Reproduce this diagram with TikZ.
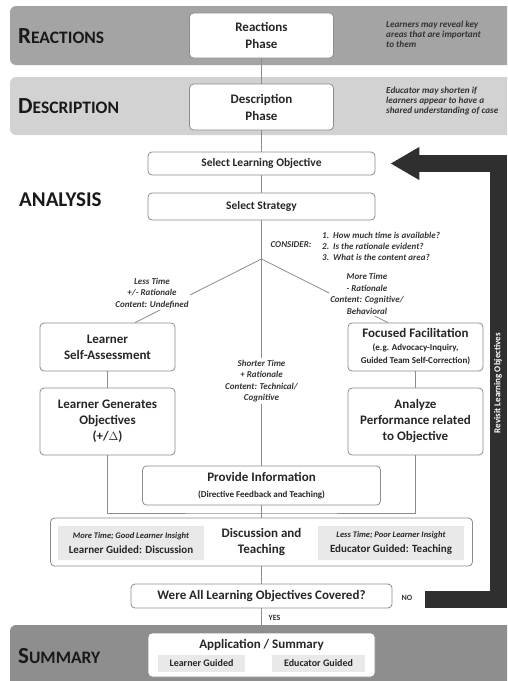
\documentclass[tikz,border=0pt]{standalone}
\usepackage{fontspec}
\setmainfont{Carlito}
\usetikzlibrary{positioning,calc,arrows.meta}

\definecolor{bandDark}{HTML}{A4A4A4}
\definecolor{bandLight}{HTML}{D2D2D2}
\definecolor{bandSum}{HTML}{8E8E8E}
\definecolor{lineGray}{HTML}{8C8C8C}
\definecolor{subGray}{HTML}{E9E9E9}
\definecolor{revisitGray}{HTML}{2F2F2F}

\tikzset{
  main/.style={rectangle, rounded corners=4pt, draw=lineGray, fill=white, line width=0.8pt, align=center, inner sep=0pt, text=black!85, font=\bfseries\fontsize{13}{16}\selectfont},
  sub/.style={rectangle, fill=subGray, align=center, inner sep=0pt, text=black!85},
  note/.style={align=left, anchor=west, inner sep=0pt, text=black!80, font=\bfseries\itshape\fontsize{9.2}{10}\selectfont},
  cond/.style={align=center, fill=white, inner sep=1.5pt, text=black!80, font=\bfseries\itshape\fontsize{9}{11.5}\selectfont},
  phase/.style={anchor=west, inner sep=0pt, text=black!90, font=\bfseries},
  connect/.style={draw=lineGray, line width=0.8pt},
  revisit/.style={draw=revisitGray, line width=17pt, -{Triangle[length=29pt,width=31pt]}}
}
\newcommand{\phasename}[2]{{\fontsize{23}{23}\selectfont #1}{\fontsize{17.5}{17.5}\selectfont #2}}

\begin{document}
\begin{tikzpicture}[x=1pt, y=-1pt]
  \useasboundingbox (0,0) rectangle (507,681);
  \clip (0,0) rectangle (507,681);

  % phase bands
  \fill[bandDark, rounded corners=6pt] (10,6) rectangle (530,65);
  \fill[bandLight, rounded corners=6pt] (10,77) rectangle (530,135);
  \fill[bandSum, rounded corners=6pt] (10,625) rectangle (530,700);

  \node[phase] (Reac) at (18,36) {\phasename{R}{EACTIONS}};
  \node[phase] (Desc) at (18,106) {\phasename{D}{ESCRIPTION}};
  \node[phase, font=\bfseries\fontsize{21}{21}\selectfont] (Anal) at (19,200) {ANALYSIS};
  \node[phase] (Summ) at (18,656) {\phasename{S}{UMMARY}};

  \node[note] (ReacNote) at (386,34) {Learners may reveal key\\areas that are important\\to them};
  \node[note] (DescNote) at (386,101) {Educator may shorten if\\learners appear to have a\\shared understanding of case};

  % boxes
  \node[main, minimum width=144pt, minimum height=45pt, font=\bfseries\fontsize{13}{17}\selectfont] (ReacBox) at (261.5,35.5) {Reactions\\Phase};
  \node[main, minimum width=144pt, minimum height=46pt, font=\bfseries\fontsize{13}{17}\selectfont] (DescBox) at (261.5,107) {Description\\Phase};
  \node[main, minimum width=227pt, minimum height=23pt, font=\bfseries\fontsize{11.5}{13}\selectfont] (SelObj) at (261.5,163.5) {Select Learning Objective};
  \node[main, minimum width=227pt, minimum height=27pt, font=\bfseries\fontsize{11.5}{13}\selectfont] (SelStr) at (261.5,206.5) {Select Strategy};
  \coordinate (Branch) at (261.5,259);

  \node[main, minimum width=135pt, minimum height=48pt] (Learner) at (107.5,347) {Learner\\Self-Assessment};
  \node[main, minimum width=135pt, minimum height=48pt, font=\bfseries\fontsize{13}{13}\selectfont] (Focused) at (415.5,347) {Focused Facilitation\\{\fontsize{9}{11}\selectfont (e.g. Advocacy-Inquiry,}\\{\fontsize{9}{11}\selectfont Guided Team Self-Correction)}};
  \node[main, minimum width=135pt, minimum height=67pt] (Gen) at (107.5,421.5) {Learner Generates\\Objectives\\(+/$\Delta$)};
  \node[main, minimum width=135pt, minimum height=67pt] (Analyze) at (415.5,421.5) {Analyze\\Performance related\\to Objective};
  \node[main, minimum width=238pt, minimum height=39pt] (Provide) at (261.5,485.5) {Provide Information\\{\fontsize{9}{11}\selectfont (Directive Feedback and Teaching)}};
  \node[main, minimum width=422pt, minimum height=48pt, font=\bfseries\fontsize{13}{16}\selectfont] (Discuss) at (261.5,542) {Discussion and\\Teaching};
  \node[sub, minimum width=146pt, minimum height=34pt] (LearnerLed) at (131,543) {{\bfseries\itshape\fontsize{8.5}{9}\selectfont More Time; Good Learner Insight}\\[3pt]{\bfseries\fontsize{11}{12}\selectfont Learner Guided: Discussion}};
  \node[sub, minimum width=146pt, minimum height=34pt] (EducatorLed) at (391,543) {{\bfseries\itshape\fontsize{8.5}{9}\selectfont Less Time; Poor Learner Insight}\\[3pt]{\bfseries\fontsize{11}{12}\selectfont Educator Guided: Teaching}};
  \node[main, minimum width=261pt, minimum height=24pt, font=\bfseries\fontsize{13}{14}\selectfont] (Were) at (261.5,596) {Were All Learning Objectives Covered?};
  \node[main, minimum width=227pt, minimum height=44pt] (App) at (261.5,655) {};
  \node[inner sep=0pt, text=black!85, font=\bfseries\fontsize{13}{14}\selectfont] (AppTitle) at (261.5,645) {Application / Summary};
  \node[sub, minimum width=87pt, minimum height=17pt, font=\bfseries\fontsize{10}{11}\selectfont] (AppLearner) at (201.5,663.5) {Learner Guided};
  \node[sub, minimum width=93pt, minimum height=17pt, font=\bfseries\fontsize{10}{11}\selectfont] (AppEducator) at (318.5,663.5) {Educator Guided};

  % connectors
  \path (ReacBox) edge [connect] (DescBox)
        (DescBox) edge [connect] (SelObj)
        (SelObj) edge [connect] (SelStr);
  \draw[connect] (SelStr) -- (Branch) -- (Provide);
  \draw[connect] (Branch) -- ([xshift=27.5pt]Learner.north);
  \draw[connect] (Branch) -- ([xshift=-27.5pt]Focused.north);
  \path (Learner) edge [connect] (Gen)
        (Focused) edge [connect] (Analyze);
  \coordinate (Merge) at (261.5,513);
  \draw[connect] (Gen.south) |- (Merge) -| (Analyze.south);
  \path (Provide) edge [connect] (Discuss)
        (Discuss) edge [connect] (Were)
        (Were) edge [connect] (App);

  % strategy conditions
  \node[cond, fill=none] (Consider) at (291,245) {CONSIDER:};
  \node[note, font=\bfseries\itshape\fontsize{9}{11}\selectfont] (Questions) at (322,246) {1.\ \ How much time is available?\\2.\ \ Is the rationale evident?\\3.\ \ What is the content area?};
  \node[cond] (LessTime) at (152,293) {Less Time\\+/- Rationale\\Content: Undefined};
  \node[cond] (MoreTime) at (367,294) {More Time\\- Rationale\\Content: Cognitive/\\Behavioral};
  \node[cond] (ShortTime) at (261.5,381) {Shorter Time\\+ Rationale\\Content: Technical/\\Cognitive};
  \node[cond, fill=none, font=\bfseries\fontsize{8}{9}\selectfont] (Yes) at (274.5,618) {YES};
  \node[cond, fill=none, font=\bfseries\fontsize{8}{9}\selectfont] (No) at (407,598) {NO};

  % revisit arrow
  \coordinate (Back) at (425,599.5);
  \coordinate (Corner) at (498,163.5);
  \draw[revisit] (Back) -| (Corner) -- ([xshift=15pt]SelObj.east);
  \node[rotate=90, text=white, font=\bfseries\fontsize{9}{10}\selectfont] (RevLbl) at (498,383) {Revisit Learning Objectives};
\end{tikzpicture}
\end{document}
